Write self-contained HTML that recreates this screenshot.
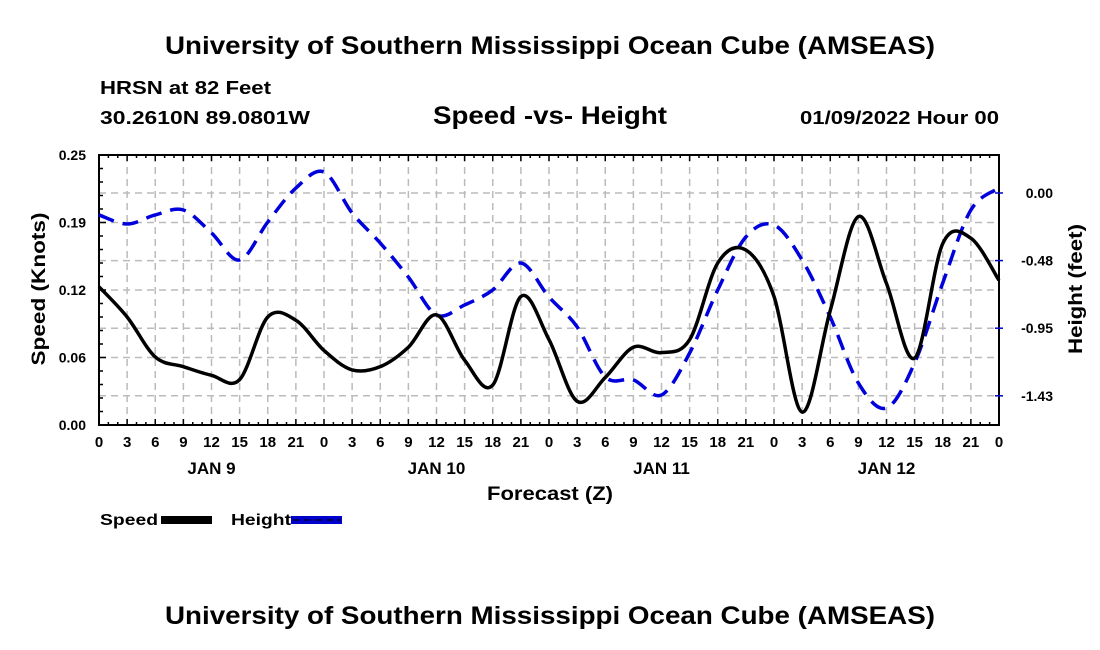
<!DOCTYPE html>
<html><head><meta charset="utf-8"><style>
body{margin:0;background:#fff;width:1100px;height:650px;overflow:hidden}
svg{display:block;font-family:"Liberation Sans",Arial,sans-serif;font-weight:bold}
</style></head><body>
<svg id="chart" width="1100" height="650">
<text x="165" y="54" font-size="25" textLength="770" lengthAdjust="spacingAndGlyphs">University of Southern Mississippi Ocean Cube (AMSEAS)</text>
<text x="100" y="94" font-size="18" textLength="171" lengthAdjust="spacingAndGlyphs">HRSN at 82 Feet</text>
<text x="100" y="124" font-size="18" textLength="210" lengthAdjust="spacingAndGlyphs">30.2610N  89.0801W</text>
<text x="433" y="124" font-size="25" textLength="234" lengthAdjust="spacingAndGlyphs">Speed -vs- Height</text>
<text x="800" y="124" font-size="18" textLength="199" lengthAdjust="spacingAndGlyphs">01/09/2022 Hour 00</text>
<g id="grid"></g><g id="axes"></g><g id="series"></g>
<text x="45" y="289" font-size="19" text-anchor="middle" textLength="153" lengthAdjust="spacingAndGlyphs" transform="rotate(-90 45 289)">Speed (Knots)</text>
<text x="1082" y="289" font-size="19" text-anchor="middle" textLength="130" lengthAdjust="spacingAndGlyphs" transform="rotate(-90 1082 289)">Height (feet)</text>
<text x="487" y="500" font-size="19" textLength="126" lengthAdjust="spacingAndGlyphs">Forecast (Z)</text>
<g><text x="100" y="525" font-size="16" textLength="58" lengthAdjust="spacingAndGlyphs">Speed</text><rect x="161" y="516" width="51" height="8" fill="#000"/></g>
<g><text x="231" y="525" font-size="16" textLength="60" lengthAdjust="spacingAndGlyphs">Height</text><rect x="291" y="516" width="51" height="8" fill="#00c"/><line x1="293" y1="520" x2="341" y2="520" stroke="#000" stroke-width="1" stroke-dasharray="7 4"/></g>
<text x="165" y="624" font-size="25" textLength="770" lengthAdjust="spacingAndGlyphs">University of Southern Mississippi Ocean Cube (AMSEAS)</text>
</svg>
<script>
const hours=[0,3,6,9,12,15,18,21,24,27,30,33,36,39,42,45,48,51,54,57,60,63,66,69,72,75,78,81,84,87,90,93,96];
const speedValues=[0.128,0.100,0.063,0.054,0.046,0.042,0.100,0.097,0.069,0.051,0.054,0.072,0.102,0.060,0.037,0.119,0.079,0.022,0.044,0.072,0.067,0.079,0.150,0.162,0.119,0.012,0.106,0.193,0.131,0.062,0.168,0.173,0.134];
const heightValues=[-0.155,-0.219,-0.155,-0.120,-0.282,-0.473,-0.205,0.035,0.148,-0.141,-0.353,-0.593,-0.861,-0.790,-0.684,-0.494,-0.734,-0.945,-1.298,-1.319,-1.425,-1.129,-0.684,-0.310,-0.226,-0.473,-0.875,-1.341,-1.517,-1.199,-0.635,-0.120,0.035];
const leftTicks=[0,0.0625,0.125,0.1875,0.25];
const leftTickLabels=["0.00","0.06","0.12","0.19","0.25"];
const rightTicks=[0,-0.477,-0.954,-1.431];
const rightTickLabels=["0.00","-0.48","-0.95","-1.43"];
const dayLabels=["JAN 9","JAN 10","JAN 11","JAN 12"];
const NS='http://www.w3.org/2000/svg';
const X0=99,X1=999,Y0=155,Y1=425;
const xs=h=>X0+(h/96)*(X1-X0);
const ysL=v=>Y1-(v/0.25)*(Y1-Y0);
const HMIN=-1.637,HMAX=0.268;
const ysR=v=>Y1-((v-HMIN)/(HMAX-HMIN))*(Y1-Y0);
function mk(tag,attrs,parent){const e=document.createElementNS(NS,tag);for(const k in attrs)e.setAttribute(k,attrs[k]);parent.appendChild(e);return e;}
const grid=document.getElementById('grid'),axes=document.getElementById('axes'),series=document.getElementById('series');
for(let h=3;h<96;h+=3){const l=mk('line',{x1:xs(h),x2:xs(h),y1:Y0,y2:Y1,stroke:'#bbb','stroke-width':1.5,'stroke-dasharray':'7 5'},grid);

}
leftTicks.slice(1,-1).forEach(v=>{const l=mk('line',{x1:X0,x2:X1,y1:ysL(v),y2:ysL(v),stroke:'#bbb','stroke-width':1.5,'stroke-dasharray':'7 5'},grid);

});
rightTicks.forEach(v=>{const l=mk('line',{x1:X0,x2:X1,y1:ysR(v),y2:ysR(v),stroke:'#bbb','stroke-width':1.5,'stroke-dasharray':'7 5'},grid);

});
const frame=mk('rect',{x:X0,y:Y0,width:X1-X0,height:Y1-Y0,fill:'none',stroke:'#000','stroke-width':2},axes);


for(let h=0;h<=96;h++){const big=h%3===0;
mk('line',{x1:xs(h),x2:xs(h),y1:Y1,y2:Y1-(big?6:3),stroke:'#000','stroke-width':1.5},axes);
mk('line',{x1:xs(h),x2:xs(h),y1:Y0,y2:Y0+(big?6:3),stroke:'#000','stroke-width':1.5},axes);}
hours.forEach(h=>{const t=mk('text',{x:xs(h),y:447,'font-size':15,'text-anchor':'middle'},axes);t.textContent=String(h%24);

});
dayLabels.forEach((d,i)=>{const t=mk('text',{x:xs(12+24*i),y:474,'font-size':17,'text-anchor':'middle'},axes);t.textContent=d;

});
for(let i=0;i<=20;i++){const v=i*0.0125;mk('line',{x1:X0,x2:X0+(i%5===0?7:4),y1:ysL(v),y2:ysL(v),stroke:'#000','stroke-width':1.5},axes);}
leftTicks.forEach((v,i)=>{const t=mk('text',{x:86,y:ysL(v)+5,'font-size':14,'text-anchor':'end'},axes);t.textContent=leftTickLabels[i];

});
rightTicks.forEach((v,i)=>{mk('line',{x1:X1-4,x2:X1+4,y1:ysR(v),y2:ysR(v),stroke:'#00c','stroke-width':1.5},axes);
const t=mk('text',{x:1053,y:ysR(v)+5,'font-size':14,'text-anchor':'end'},axes);t.textContent=rightTickLabels[i];

});
function smooth(pts){let d='M'+pts[0][0]+','+pts[0][1];for(let i=0;i<pts.length-1;i++){const p0=pts[i-1]||pts[i],p1=pts[i],p2=pts[i+1],p3=pts[i+2]||p2;
d+=' C'+(p1[0]+(p2[0]-p0[0])/6)+','+(p1[1]+(p2[1]-p0[1])/6)+' '+(p2[0]-(p3[0]-p1[0])/6)+','+(p2[1]-(p3[1]-p1[1])/6)+' '+p2[0]+','+p2[1];}return d;}
const hp=mk('path',{d:smooth(hours.map((h,i)=>[xs(h),ysR(heightValues[i])])),fill:'none',stroke:'#0000dd','stroke-width':3.5,'stroke-dasharray':'16 9'},series);


const sp=mk('path',{d:smooth(hours.map((h,i)=>[xs(h),ysL(speedValues[i])])),fill:'none',stroke:'#000','stroke-width':3.5},series);


</script>
</body></html>
